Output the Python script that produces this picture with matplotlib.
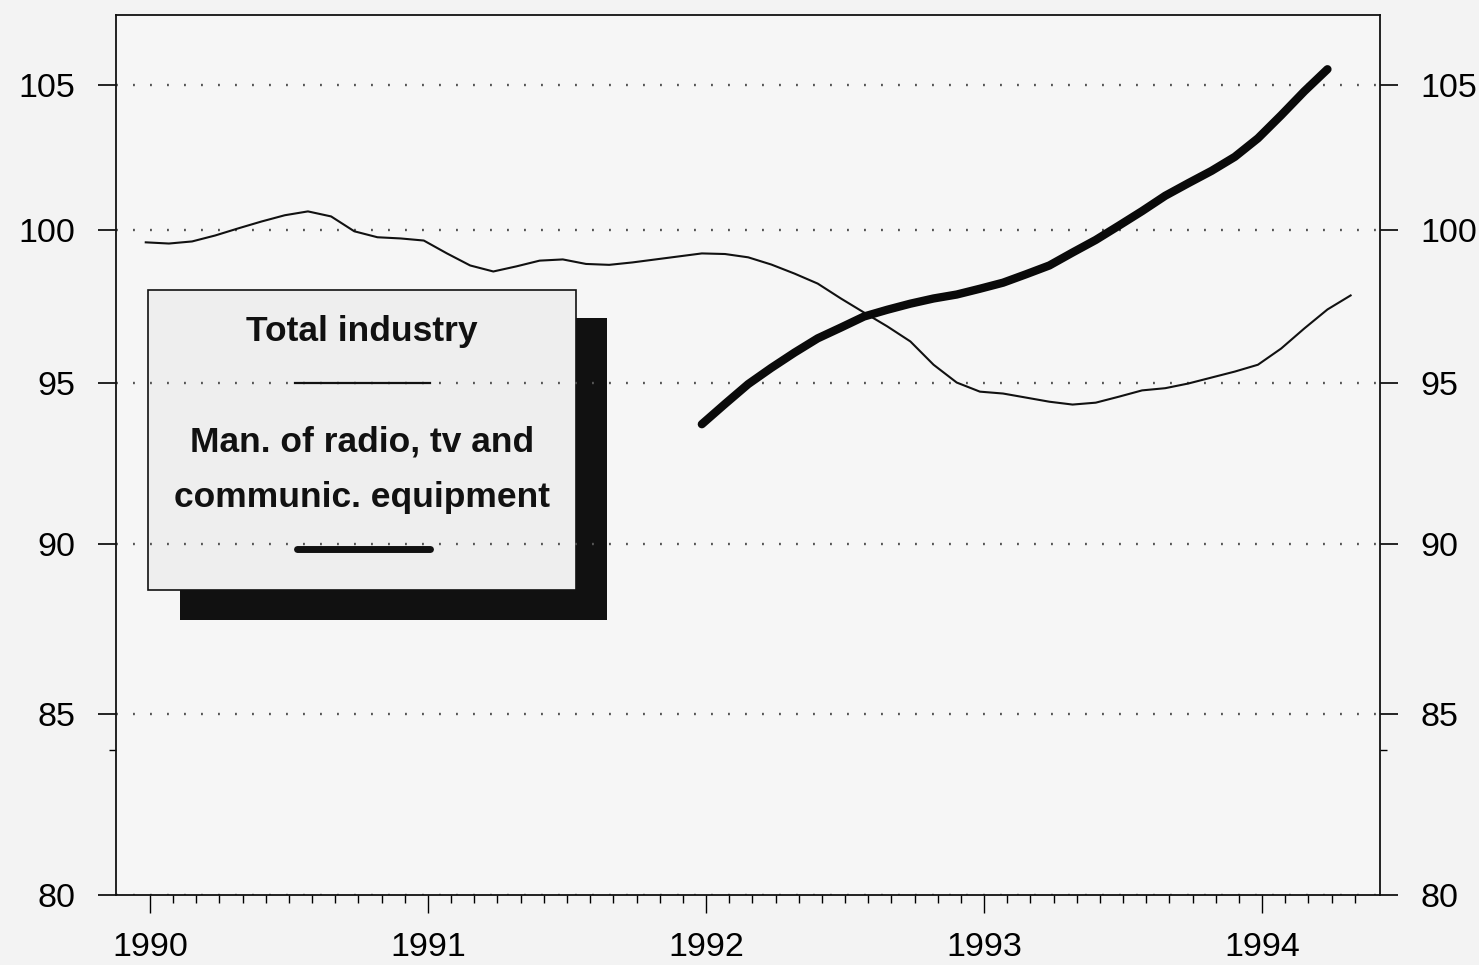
import numpy as np
import matplotlib
matplotlib.use("Agg")
import matplotlib.pyplot as plt
from matplotlib.patches import Rectangle
from matplotlib.lines import Line2D
from matplotlib.ticker import FixedLocator, NullFormatter, FuncFormatter

plt.rcParams['font.family'] = ['Liberation Sans', 'DejaVu Sans']

# monthly index values, total industry from Jan 1990
total_industry = [99.60, 99.56, 99.63, 99.83, 100.07, 100.30, 100.51, 100.64, 100.47, 99.97,
                  99.77, 99.73, 99.66, 99.23, 98.83, 98.63, 98.80, 98.99, 99.03, 98.88,
                  98.85, 98.93, 99.03, 99.13, 99.23, 99.21, 99.10, 98.86, 98.56, 98.23,
                  97.74, 97.28, 96.83, 96.34, 95.59, 95.02, 94.73, 94.67, 94.54, 94.41,
                  94.32, 94.38, 94.57, 94.77, 94.84, 94.99, 95.18, 95.37, 95.59, 96.11,
                  96.76, 97.38, 97.84]
# man. of radio, tv and communic. equipment, from Jan 1992
radio_tv = [93.70, 94.34, 94.97, 95.49, 95.98, 96.44, 96.79, 97.15, 97.37, 97.57,
            97.74, 97.87, 98.06, 98.26, 98.54, 98.83, 99.26, 99.68, 100.16, 100.65,
            101.17, 101.60, 102.02, 102.50, 103.14, 103.94, 104.78, 105.56]

years = [1990, 1991, 1992, 1993, 1994]
y_ticks = [80, 85, 90, 95, 100, 105]
legend_total = "Total industry"
legend_radio = ["Man. of radio, tv and", "communic. equipment"]

t_total = 1990 + np.arange(len(total_industry)) / 12
t_radio = 1992 + np.arange(len(radio_tv)) / 12

W, H = 1479, 965
bg = '#f3f3f3'
fig = plt.figure(figsize=(W / 100, H / 100), dpi=100, facecolor=bg)
ax = fig.add_axes([116 / W, 1 - 895 / H, (1380 - 116) / W, (895 - 15) / H])
ax.set_facecolor('#f6f6f6')

ax.plot(t_total - 0.015, total_industry, color='#111111', lw=1.5, zorder=3)
ax.plot(t_radio - 0.015, radio_tv, color='#0a0a0a', lw=6, solid_capstyle='round', zorder=3)

ax.set_yscale('log')
ax.set_ylim(80, 107.5)
ax.set_xlim(1989.878, 1994.424)

ax.yaxis.set_major_locator(FixedLocator(y_ticks))
ax.yaxis.set_minor_locator(FixedLocator([84]))
ax.yaxis.set_major_formatter(FuncFormatter(lambda v, p: f"{v:.0f}"))
ax.yaxis.set_minor_formatter(NullFormatter())
ax.tick_params(axis='y', which='major', direction='out', length=13, width=1.2,
               labelsize=24.5, pad=16, left=True, right=True, labelleft=True, labelright=True)
ax.tick_params(axis='y', which='minor', direction='out', length=5, width=1.0,
               left=True, right=True)

ax.xaxis.set_major_locator(FixedLocator(years))
ax.xaxis.set_minor_locator(FixedLocator(1990 + np.arange(0, 53) / 12))
ax.xaxis.set_major_formatter(FuncFormatter(lambda v, p: f"{v:.0f}"))
ax.tick_params(axis='x', which='major', direction='out', length=13, width=1.0,
               labelsize=24.5, pad=14)
ax.tick_params(axis='x', which='minor', direction='out', length=6, width=1.0)

for s in ax.spines.values():
    s.set_linewidth(1.3)
    s.set_color('#111111')

ax.set_axisbelow('line')
ax.yaxis.grid(True, which='major', linestyle=(0, (0.8, 6.4)), linewidth=1.7, color='#555555')


def fx(x):
    return x / W


def fy(y):
    return 1 - y / H


# legend box with shadow
tf = fig.transFigure
ax.add_patch(Rectangle((fx(180), fy(620)), fx(607) - fx(180), fy(318) - fy(620),
                       transform=tf, facecolor='#111111', edgecolor='none',
                       clip_on=False, zorder=1))
ax.add_patch(Rectangle((fx(148), fy(590)), fx(576) - fx(148), fy(290) - fy(590),
                       transform=tf, facecolor='#eeeeee', edgecolor='#111111', lw=1.2,
                       clip_on=False, zorder=1.2))
ax.text(fx(362), fy(332), legend_total, transform=tf, ha='center', va='center',
        fontsize=25.5, fontweight='bold', color='#111111', zorder=4)
ax.add_line(Line2D([fx(295), fx(430)], [fy(383), fy(383)], transform=tf,
                   color='#111111', lw=1.6, zorder=4))
for txt, yy in zip(legend_radio, [442, 497]):
    ax.text(fx(362), fy(yy), txt, transform=tf, ha='center', va='center',
            fontsize=25.5, fontweight='bold', color='#111111', zorder=4)
ax.add_line(Line2D([fx(297), fx(430)], [fy(549), fy(549)], transform=tf,
                   color='#111111', lw=5, solid_capstyle='round', zorder=4))

fig.savefig("out.png", dpi=100, facecolor=bg)
